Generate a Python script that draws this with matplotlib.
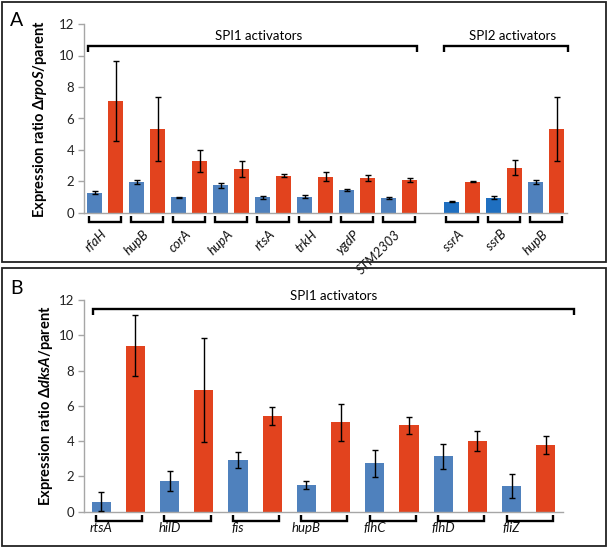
import matplotlib
matplotlib.use("Agg")
import matplotlib.pyplot as plt
from matplotlib.patches import Rectangle

plt.rcParams['font.family'] = ['Lato', 'DejaVu Sans']
plt.rcParams['mathtext.fontset'] = 'custom'
plt.rcParams['mathtext.it'] = 'Lato:italic:bold'
plt.rcParams['mathtext.rm'] = 'Lato:bold'
plt.rcParams['mathtext.bf'] = 'Lato:bold'

# ---------------- data: panel A ----------------
genes_a = ['rfaH', 'hupB', 'corA', 'hupA', 'rtsA', 'trkH', 'ygdP', 'STM2303',
           'ssrA', 'ssrB', 'hupB']
blue_a = [1.30, 1.99, 0.99, 1.76, 0.99, 1.04, 1.46, 0.95, 0.71, 0.97, 1.99]
blue_a_err = [0.12, 0.13, 0.04, 0.15, 0.10, 0.10, 0.05, 0.04, 0.03, 0.10, 0.13]
red_a = [7.12, 5.32, 3.32, 2.80, 2.36, 2.31, 2.20, 2.09, 1.99, 2.88, 5.32]
red_a_err = [2.53, 2.03, 0.70, 0.53, 0.10, 0.30, 0.20, 0.14, 0.04, 0.46, 2.02]
groups_a = ['SPI1 activators', 'SPI2 activators']
n_spi1_a = 8

# ---------------- data: panel B ----------------
genes_b = ['rtsA', 'hilD', 'fis', 'hupB', 'flhC', 'flhD', 'fliZ']
blue_b = [0.57, 1.74, 2.93, 1.51, 2.74, 3.14, 1.46]
blue_b_err = [0.53, 0.55, 0.45, 0.24, 0.75, 0.70, 0.66]
red_b = [9.40, 6.92, 5.41, 5.07, 4.91, 4.00, 3.78]
red_b_err = [1.73, 2.95, 0.52, 1.05, 0.48, 0.57, 0.49]
groups_b = ['SPI1 activators']

yticks = [0, 2, 4, 6, 8, 10, 12]

BLUE = '#4F81BD'
BLUE2 = '#1F6FC0'
RED = '#E2431E'
AXC = '#A6A6A6'

W, H = 610, 548
fig = plt.figure(figsize=(W / 100, H / 100), dpi=100)


def px_rect(x0, y0, x1, y1):
    return [x0 / W, 1 - y1 / H, (x1 - x0) / W, (y1 - y0) / H]


# panel frames
for (x0, y0, x1, y1) in [(2, 2, 606, 262), (2, 268, 606, 546)]:
    fig.patches.append(Rectangle((x0 / W, 1 - y1 / H), (x1 - x0) / W, (y1 - y0) / H,
                                 transform=fig.transFigure, fill=False,
                                 edgecolor='#222222', linewidth=1.3))

fig.text(10 / W, 1 - 20 / H, 'A', fontsize=14, va='center', ha='left')
fig.text(10 / W, 1 - 289 / H, 'B', fontsize=14, va='center', ha='left')


def style_axes(ax, nslots):
    ax.set_xlim(-0.5, nslots - 0.5)
    ax.set_ylim(0, 12)
    ax.set_yticks(yticks)
    ax.set_xticks([])
    for s in ['top', 'right']:
        ax.spines[s].set_visible(False)
    for s in ['left', 'bottom']:
        ax.spines[s].set_color(AXC)
        ax.spines[s].set_linewidth(1.0)
    ax.tick_params(axis='y', colors=AXC, length=4, width=1.0, labelsize=9.5,
                   labelcolor='#222222', pad=3)
    ax.patch.set_alpha(0)


def bracket(ax, x0, x1, y0, y1):
    ax.plot([x0, x0, x1, x1], [y1, y0, y0, y1], color='black', lw=1.7,
            clip_on=False, solid_joinstyle='miter', solid_capstyle='butt')


def draw_pairs(ax, bpos, rpos, bvals, berr, rvals, rerr, bcols, width):
    ax.bar(bpos, bvals, width=width, color=bcols, zorder=2)
    ax.bar(rpos, rvals, width=width, color=RED, zorder=2)
    ax.errorbar(bpos, bvals, yerr=berr, fmt='none', ecolor='black', elinewidth=1.0,
                capsize=2.5, capthick=1.0, zorder=3)
    ax.errorbar(rpos, rvals, yerr=rerr, fmt='none', ecolor='black', elinewidth=1.0,
                capsize=2.5, capthick=1.0, zorder=3)


# ---------------- panel A ----------------
axA = fig.add_axes(px_rect(84, 24, 567, 213))
nA = 2 * len(genes_a) + 1
bposA = [2 * i if i < n_spi1_a else 2 * i + 1 for i in range(len(genes_a))]
rposA = [p + 1 for p in bposA]
bcolsA = [BLUE if i < n_spi1_a else (BLUE2 if i < len(genes_a) - 1 else BLUE)
          for i in range(len(genes_a))]
draw_pairs(axA, bposA, rposA, blue_a, blue_a_err, red_a, red_a_err, bcolsA, 0.72)
style_axes(axA, nA)
axA.set_ylabel(r'Expression ratio Δ$\mathit{rpoS}$/parent', fontsize=10.5,
               fontweight='bold', family=['Lato', 'DejaVu Sans'])
axA.yaxis.set_label_coords(-0.072, 0.5)

for g, b in zip(genes_a, bposA):
    bracket(axA, b - 0.25, b + 1.28, -0.55, -0.2)
    axA.text(b + 0.3, -0.95, g, rotation=45, rotation_mode='anchor', ha='right',
             va='top', fontsize=9.5, fontstyle='italic', color='#111111')

# group brackets
spans_a = [(bposA[0] - 0.3, rposA[n_spi1_a - 1] + 0.35),
           (bposA[n_spi1_a] - 0.35, rposA[-1] + 0.55)]
for name, (x0, x1) in zip(groups_a, spans_a):
    bracket(axA, x0, x1, 10.6, 10.2)
    axA.text((x0 + x1) / 2 + 0.3, 11.25, name, ha='center', va='center', fontsize=9.5)

# ---------------- panel B ----------------
axB = fig.add_axes(px_rect(84, 300, 563, 511.7))
nB = 2 * len(genes_b)
bposB = [2 * i for i in range(len(genes_b))]
rposB = [p + 1 for p in bposB]
draw_pairs(axB, bposB, rposB, blue_b, blue_b_err, red_b, red_b_err, BLUE, 0.56)
style_axes(axB, nB)
axB.set_ylabel(r'Expression ratio Δ$\mathit{dksA}$/parent', fontsize=10.5,
               fontweight='bold', family=['Lato', 'DejaVu Sans'])
axB.yaxis.set_label_coords(-0.06, 0.5)

for g, b in zip(genes_b, bposB):
    bracket(axB, b - 0.15, b + 1.2, -0.52, -0.2)
    axB.text(b, -0.92, g, ha='center', va='center', fontsize=9.5,
             fontstyle='italic', color='#111111')

x0, x1 = bposB[0] - 0.25, rposB[-1] + 0.83
bracket(axB, x0, x1, 11.47, 11.15)
axB.text((x0 + x1) / 2, 12.2, groups_b[0], ha='center', va='center', fontsize=9.5)

fig.savefig('out.png', dpi=100)
